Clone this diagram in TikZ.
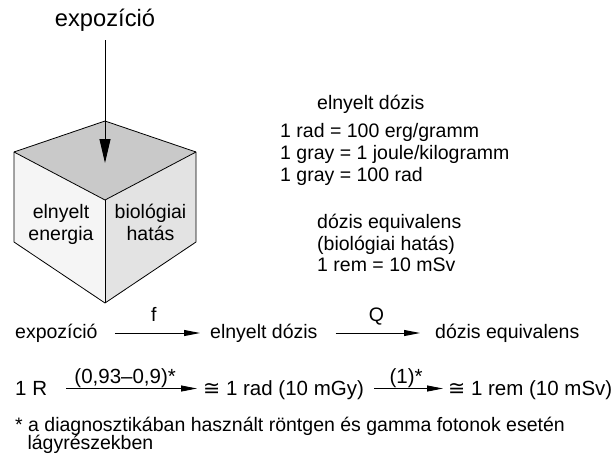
\documentclass[tikz,border=0pt]{standalone}
\usepackage{fontspec}
\setmainfont{Liberation Sans}
\newfontfamily\symfont{DejaVu Sans}
\usetikzlibrary{arrows.meta}

\tikzset{
  txt/.style={inner sep=0pt, font=\fontsize{19.5}{22}\selectfont},
  txtb/.style={inner sep=0pt, font=\fontsize{20.5}{23}\selectfont},
  rowa/.style={txt, anchor=base west, text height=14pt, text depth=4pt},
  rowb/.style={txtb, anchor=base west, text height=16pt, text depth=3pt},
  harr/.style={line width=0.9pt, -{Triangle[length=16pt,width=6pt]}},
  varr/.style={line width=0.9pt, -{Triangle[length=24pt,width=11pt]}},
  edge/.style={line width=0.8pt, line join=round},
}
\newcommand{\congsym}{{\symfont\char"2245}}

\begin{document}
\begin{tikzpicture}[x=1pt, y=-1pt]
  \fill[white] (0,0) rectangle (615,456);
  \useasboundingbox (0,0) rectangle (615,456);

  % cube corners
  \coordinate (ct) at (105,121);
  \coordinate (cl) at (14,152);
  \coordinate (cr) at (196,152);
  \coordinate (cc) at (105,200);
  \coordinate (clb) at (14,242);
  \coordinate (crb) at (196,242);
  \coordinate (cb) at (105,303);

  % cube faces
  \fill[black!21] (ct) -- (cr) -- (cc) -- (cl) -- cycle;
  \fill[black!4]  (cl) -- (cc) -- (cb) -- (clb) -- cycle;
  \fill[black!11] (cc) -- (cr) -- (crb) -- (cb) -- cycle;
  \draw[edge] (ct) -- (cr) -- (crb) -- (cb) -- (clb) -- (cl) -- cycle;
  \draw[edge] (cl) -- (cc) -- (cr);
  \draw[edge] (cc) -- (cb);

  % face labels
  \node[txt, anchor=base] (le1) at (61,218) {elnyelt};
  \node[txt, anchor=base] (le2) at (61,240) {energia};
  \node[txt, anchor=base] (ri1) at (150.5,218) {biológiai};
  \node[txt, anchor=base] (ri2) at (150.5,240) {hatás};

  % incoming exposure
  \node[inner sep=0pt, anchor=base, font=\fontsize{23.7}{26}\selectfont] (topexp) at (105,26) {expozíció};
  \coordinate (expin) at (105,163);
  \draw[varr, shorten <=9pt] (topexp.south) -- (expin);

  % units block
  \node[txt, anchor=base west] (u1) at (317,109) {elnyelt dózis};
  \node[txt, anchor=base west] (u2) at (280,137) {1 rad = 100 erg/gramm};
  \node[txt, anchor=base west] (u3) at (280,159) {1 gray = 1 joule/kilogramm};
  \node[txt, anchor=base west] (u4) at (280,181) {1 gray = 100 rad};
  \node[txt, anchor=base west] (u5) at (317,228) {dózis equivalens};
  \node[txt, anchor=base west] (u6) at (317,250) {(biológiai hatás)};
  \node[txt, anchor=base west] (u7) at (317,271) {1 rem = 10 mSv};

  % first chain
  \node[rowa] (ra1) at (15,338) {expozíció};
  \node[rowa] (ra2) at (210,338) {elnyelt dózis};
  \node[rowa] (ra3) at (435,338) {dózis equivalens};
  \draw[harr, shorten <=17pt, shorten >=10pt] (ra1.east) -- (ra2.west)
    node[txt, midway, anchor=base, yshift=12pt] {f};
  \draw[harr, shorten <=18pt, shorten >=15pt] (ra2.east) -- (ra3.west)
    node[txt, midway, anchor=base, yshift=12pt] {Q};

  % second chain
  \node[rowb] (rb1) at (15,395) {1 R};
  \node[rowb] (rb2) at (203,395) {\congsym{} 1 rad (10 mGy)};
  \node[rowb] (rb3) at (448,395) {\congsym{} 1 rem (10 mSv)};
  \draw[harr, shorten <=19pt, shorten >=6pt] (rb1.east) -- (rb2.west)
    node[txtb, midway, anchor=base, yshift=5.5pt] {(0,93–0,9)*};
  \draw[harr, shorten <=10pt, shorten >=5pt] (rb2.east) -- (rb3.west)
    node[txtb, midway, anchor=base, yshift=5.5pt] {(1)*};

  % footnote
  \node[inner sep=0pt, anchor=base west, font=\fontsize{19.5}{21}\selectfont] (fn1) at (15,431)
    {* a diagnosztikában használt röntgen és gamma fotonok esetén};
  \node[inner sep=0pt, anchor=base west, font=\fontsize{19.5}{21}\selectfont] (fn2) at (27.3,449)
    {lágyrészekben};
\end{tikzpicture}
\end{document}
